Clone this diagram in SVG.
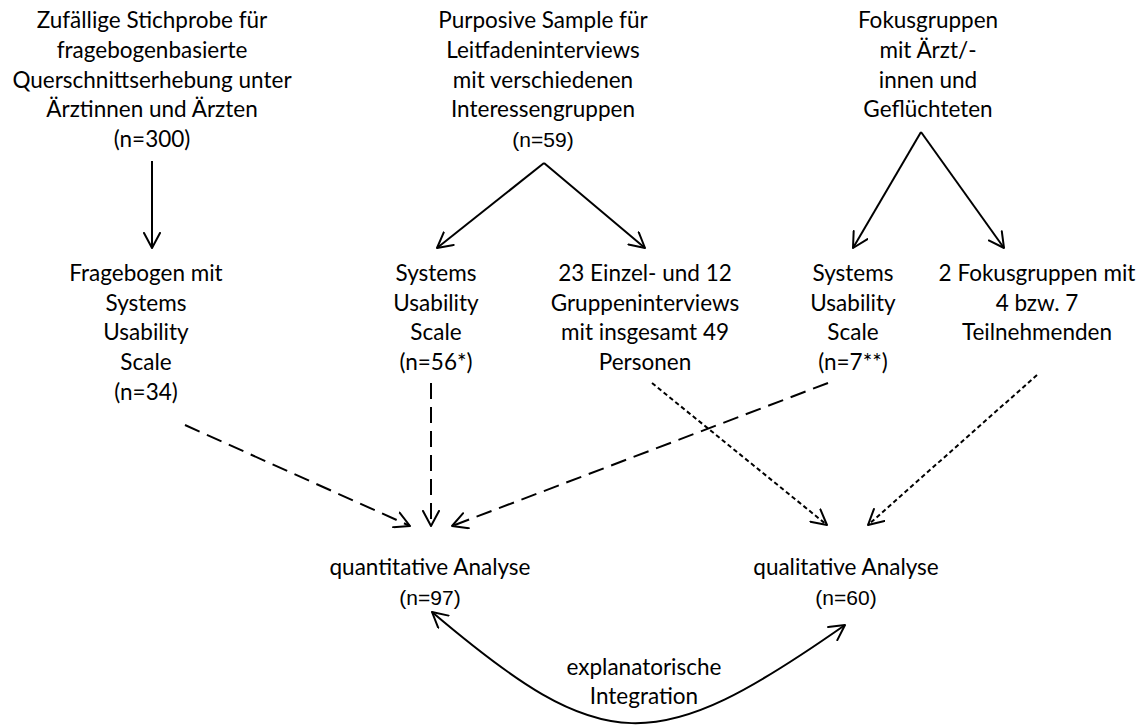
<svg xmlns="http://www.w3.org/2000/svg" width="1140" height="725" viewBox="0 0 1140 725">
<style>
  .t { font-family: Lato, "Open Sans", sans-serif; font-size: 22.5px; fill: #000; text-anchor: middle; }
  .a { font-family: "Liberation Sans", Arial, sans-serif; font-size: 21px; fill: #000; text-anchor: middle; }
  .solid { stroke: #000; stroke-width: 2; fill: none; marker-end: url(#ah); }
  .dash { stroke: #000; stroke-width: 2; fill: none; stroke-dasharray: 16 8; marker-end: url(#ah); }
  .dot { stroke: #000; stroke-width: 2; fill: none; stroke-dasharray: 4.5 3; marker-end: url(#ah); }
</style>
<defs>
  <marker id="ah" viewBox="0 0 18 18" refX="16" refY="9" markerWidth="18" markerHeight="18" markerUnits="userSpaceOnUse" orient="auto-start-reverse">
    <path d="M1,1 L16,9 L1,17" fill="none" stroke="#000" stroke-width="2" stroke-dasharray="none" stroke-linecap="round" stroke-linejoin="round"/>
  </marker>
</defs>
<rect width="1140" height="725" fill="#fff"/>

<g id="node-stichprobe">
  <text class="t" x="152" y="28">Zufällige Stichprobe für</text>
  <text class="t" x="152" y="58">fragebogenbasierte</text>
  <text class="t" x="152" y="88">Querschnittserhebung unter</text>
  <text class="t" x="152" y="117">Ärztinnen und Ärzten</text>
  <text class="t" x="152" y="147">(n=300)</text>
</g>
<g id="node-purposive">
  <text class="t" x="543" y="28">Purposive Sample für</text>
  <text class="t" x="543" y="58">Leitfadeninterviews</text>
  <text class="t" x="543" y="88">mit verschiedenen</text>
  <text class="t" x="543" y="117">Interessengruppen</text>
  <text class="a" x="543" y="147">(n=59)</text>
</g>
<g id="node-fokus">
  <text class="t" x="928" y="28">Fokusgruppen</text>
  <text class="t" x="928" y="58">mit Ärzt/-</text>
  <text class="t" x="928" y="88">innen und</text>
  <text class="t" x="928" y="117">Geflüchteten</text>
</g>

<g id="node-fragebogen">
  <text class="t" x="146" y="281">Fragebogen mit</text>
  <text class="t" x="146" y="311">Systems</text>
  <text class="t" x="146" y="340">Usability</text>
  <text class="t" x="146" y="370">Scale</text>
  <text class="t" x="146" y="400">(n=34)</text>
</g>
<g id="node-sus1">
  <text class="t" x="436" y="281">Systems</text>
  <text class="t" x="436" y="311">Usability</text>
  <text class="t" x="436" y="340">Scale</text>
  <text class="t" x="436" y="370">(n=56*)</text>
</g>
<g id="node-interviews">
  <text class="t" x="645" y="281">23 Einzel- und 12</text>
  <text class="t" x="645" y="311">Gruppeninterviews</text>
  <text class="t" x="645" y="340">mit insgesamt 49</text>
  <text class="t" x="645" y="370">Personen</text>
</g>
<g id="node-sus2">
  <text class="t" x="853" y="281">Systems</text>
  <text class="t" x="853" y="311">Usability</text>
  <text class="t" x="853" y="340">Scale</text>
  <text class="t" x="853" y="370">(n=7**)</text>
</g>
<g id="node-fokusgruppen2">
  <text class="t" x="1037" y="281">2 Fokusgruppen mit</text>
  <text class="t" x="1037" y="311">4 bzw. 7</text>
  <text class="t" x="1037" y="340">Teilnehmenden</text>
</g>

<g id="node-quant">
  <text class="t" x="430" y="575">quantitative Analyse</text>
  <text class="a" x="430" y="605">(n=97)</text>
</g>
<g id="node-qual">
  <text class="t" x="846" y="575">qualitative Analyse</text>
  <text class="a" x="846" y="605">(n=60)</text>
</g>
<g id="label-integration">
  <text class="t" x="644" y="675">explanatorische</text>
  <text class="t" x="644" y="704">Integration</text>
</g>

<g id="connectors">
  <line class="solid" x1="152" y1="161" x2="152" y2="248"/>
  <line class="solid" x1="544" y1="163" x2="437" y2="248"/>
  <line class="solid" x1="544" y1="163" x2="645" y2="248"/>
  <line class="solid" x1="921" y1="132" x2="853" y2="248"/>
  <line class="solid" x1="921" y1="132" x2="1004" y2="248"/>
  <line class="dash" x1="185" y1="425" x2="410" y2="526"/>
  <line class="dash" x1="431" y1="383" x2="431" y2="526"/>
  <line class="dash" x1="828" y1="383" x2="452" y2="526"/>
  <line class="dot" x1="652" y1="383" x2="827" y2="525"/>
  <line class="dot" x1="1037" y1="375" x2="868" y2="525"/>
  <path class="solid" d="M432,612 C604,758 655,758 845,625" style="marker-start: url(#ah)"/>
</g>
</svg>
